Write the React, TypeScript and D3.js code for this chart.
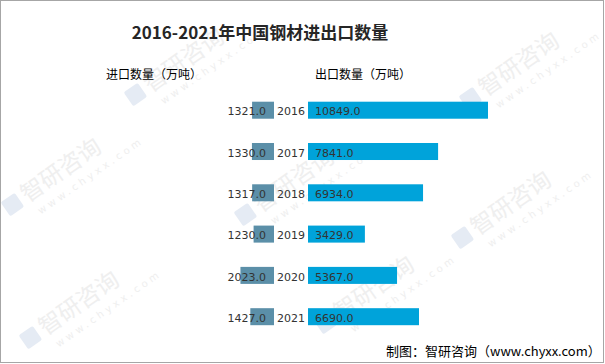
import { useMemo } from 'react';
import * as d3 from 'd3';

// 数据
const years = ['2016', '2017', '2018', '2019', '2020', '2021'];
const importValues = [1321, 1330, 1317, 1230, 2023, 1427];
const exportValues = [10849, 7841, 6934, 3429, 5367, 6690];

const title = '2016-2021年中国钢材进出口数量';
const importTitle = '进口数量（万吨）';
const exportTitle = '出口数量（万吨）';
const source = '制图：智研咨询（www.chyxx.com）';

// 水印位置
const watermarks = [
  [195, 62], [530, 66], [72, 172], [305, 182], [522, 205], [90, 305], [385, 290]
];

const W = 605;
const H = 364;
const CENTER = 291;   // 年份标签中心
const BAR_LEFT = 274; // 进口条右端
const BAR_RIGHT = 308; // 出口条左端

function Watermark({ x, y }: { x: number; y: number }) {
  return (
    <g transform={`translate(${x},${y}) rotate(-35)`} opacity={0.5}>
      <rect x={-76} y={-16} width={17} height={17} fill="#ccd8ea" rx={2} />
      <text x={-54} y={0} fontSize={23} fill="#e0e0e0" fontFamily="Noto Sans CJK SC">智研咨询</text>
      <text x={-50} y={17} fontSize={10} fill="#e0e0e0" letterSpacing={3.5} fontFamily="DejaVu Sans">www.chyxx.com</text>
    </g>
  );
}

export default function App() {
  const x = useMemo(() => d3.scaleLinear().domain([0, 10849]).range([0, 180]), []);
  const y = useMemo(
    () => d3.scaleBand<string>().domain(years).range([101.7, 325.2]).paddingInner(0.588).paddingOuter(0),
    []
  );

  return (
    <svg
      width={W}
      height={H}
      style={{ position: 'absolute', left: 0, top: 0, background: '#fff' }}
    >
      <rect x={0.5} y={0.5} width={603} height={362} fill="#fff" stroke="#a6a6a6" />

      {watermarks.map(([wx, wy], i) => (
        <Watermark key={i} x={wx} y={wy} />
      ))}

      {/* 标题 */}
      <text
        x={260}
        y={39}
        textAnchor="middle"
        fontSize={17}
        fontWeight="bold"
        fill="#262626"
        fontFamily="Noto Sans CJK SC"
      >
        {title}
      </text>

      <text x={106} y={79} fontSize={12} fill="#000" fontFamily="Noto Sans CJK SC">{importTitle}</text>
      <text x={315} y={79} fontSize={12} fill="#000" fontFamily="Noto Sans CJK SC">{exportTitle}</text>

      {years.map((yr, i) => {
        const y0 = y(yr) ?? 0;
        const bh = y.bandwidth();
        const cy = y0 + bh / 2 + 5.2;
        const iw = x(importValues[i]);
        const ew = x(exportValues[i]);
        return (
          <g key={yr} fontFamily="DejaVu Sans" fontSize={11} fill="#333">
            <rect x={BAR_LEFT - iw} y={y0} width={iw} height={bh} fill="#5b8fa8" />
            <rect x={BAR_RIGHT} y={y0} width={ew} height={bh} fill="#00a3da" />
            <text x={266} y={cy} textAnchor="end">{importValues[i].toFixed(1)}</text>
            <text x={CENTER} y={cy} textAnchor="middle">{yr}</text>
            <text x={BAR_RIGHT + 7} y={cy}>{exportValues[i].toFixed(1)}</text>
          </g>
        );
      })}

      <text x={386} y={356} fontSize={13} fill="#000" fontFamily="Noto Sans CJK SC">{source}</text>
    </svg>
  );
}
